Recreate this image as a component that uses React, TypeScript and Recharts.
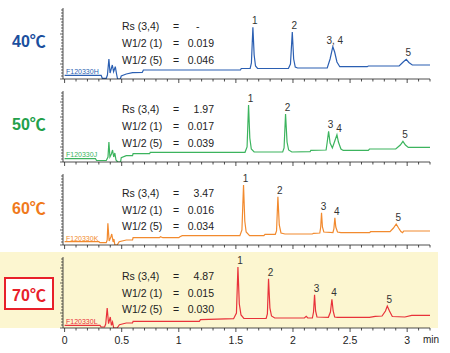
import React from 'react';
import { LineChart, Line, XAxis, YAxis, LabelList } from 'recharts';

// retention time (min) and detector signal
const TIME_40 = [0, 0.32, 0.33, 0.365, 0.375, 0.388, 0.398, 0.408, 0.418, 0.429, 0.444, 0.455, 0.464, 0.488, 0.496, 0.54, 0.595, 0.68, 0.69, 1.54, 1.547, 1.625, 1.636, 1.649, 1.66, 1.672, 1.69, 1.96, 1.978, 1.994, 2.006, 2.02, 2.04, 2.3, 2.325, 2.349, 2.365, 2.385, 2.41, 2.65, 2.66, 2.93, 2.965, 2.992, 3.015, 3.045, 3.2];
const SIGNAL_40 = [3.7, 3.7, 0.7, 0.7, 4, 20, 6, 10, 14, 7.3, 12.3, 5, 0, 0, 3, 5, 6.3, 6.5, 9, 9, 10.5, 10.5, 16, 51.7, 24, 13, 10.5, 10.5, 15, 47, 20, 12, 11, 11, 20, 32.3, 27, 17, 12.3, 12.3, 13, 13, 17, 19.7, 16.5, 14, 14];
const PEAKS_40 = [
  { t: 1.649, label: '1' },
  { t: 1.994, label: '2' },
  { t: 2.349, label: '3, 4' },
  { t: 2.992, label: '5' },
];

const TIME_50 = [0, 0.27, 0.28, 0.365, 0.38, 0.388, 0.397, 0.41, 0.42, 0.43, 0.44, 0.45, 0.465, 0.49, 0.496, 0.54, 0.595, 0.6, 0.745, 0.75, 1.58, 1.598, 1.611, 1.622, 1.635, 1.66, 1.91, 1.922, 1.935, 1.948, 1.962, 1.99, 2.15, 2.156, 2.29, 2.3, 2.312, 2.325, 2.345, 2.36, 2.385, 2.398, 2.42, 2.44, 2.66, 2.67, 2.9, 2.94, 2.963, 2.985, 3.01, 3.2];
const SIGNAL_50 = [3.3, 3.3, 1.5, 1.5, 5, 20, 5, 8, 12, 5, 9, 2, 0, 0, 4.3, 6.3, 6.3, 8.3, 8.3, 9.7, 9.7, 15, 57, 24, 13, 10, 10, 14, 48, 20, 12, 10, 10.3, 11.6, 12, 20, 30.6, 19, 14, 19, 27.3, 20, 13, 11.6, 11.6, 13, 13, 17, 20.6, 17, 14.6, 14.6];
const PEAKS_50 = [
  { t: 1.611, label: '1' },
  { t: 1.935, label: '2' },
  { t: 2.312, label: '3' },
  { t: 2.385, label: '4' },
  { t: 2.963, label: '5' },
];

const TIME_60 = [0, 0.3, 0.31, 0.365, 0.373, 0.379, 0.39, 0.405, 0.413, 0.425, 0.432, 0.44, 0.46, 0.478, 0.54, 0.595, 0.6, 0.83, 0.84, 0.86, 1.0, 1.01, 1.03, 1.535, 1.553, 1.567, 1.578, 1.59, 1.62, 1.745, 1.755, 1.845, 1.856, 1.868, 1.88, 1.895, 1.93, 2.17, 2.18, 2.235, 2.243, 2.25, 2.258, 2.27, 2.35, 2.358, 2.367, 2.375, 2.39, 2.42, 2.67, 2.68, 2.85, 2.88, 2.904, 2.925, 2.945, 2.96, 2.97, 3.2];
const SIGNAL_60 = [3.3, 3.3, 2.3, 2.3, 5, 21.7, 4, 8, 11, 3, 6, 0, 0, 3.3, 5, 5, 7.3, 7.3, 8.3, 7.3, 7.3, 8.3, 9.3, 9.3, 15, 60, 24, 13, 9.3, 9.3, 10.7, 10.7, 14, 48.3, 20, 12, 11, 11, 11.7, 12, 18, 32.3, 18, 13, 12.5, 16, 27.3, 18, 13, 12.3, 12.3, 13.3, 13.3, 17, 21, 17, 13.5, 12.3, 14, 14];
const PEAKS_60 = [
  { t: 1.567, label: '1' },
  { t: 1.868, label: '2' },
  { t: 2.25, label: '3' },
  { t: 2.367, label: '4' },
  { t: 2.904, label: '5' },
];

const TIME_70 = [0, 0.31, 0.32, 0.35, 0.36, 0.373, 0.385, 0.4, 0.41, 0.42, 0.43, 0.46, 0.48, 0.54, 0.595, 0.6, 1.18, 1.19, 1.48, 1.505, 1.518, 1.53, 1.545, 1.57, 1.765, 1.776, 1.786, 1.798, 1.812, 1.84, 2.1, 2.116, 2.13, 2.17, 2.18, 2.189, 2.198, 2.21, 2.31, 2.328, 2.341, 2.352, 2.365, 2.39, 2.67, 2.72, 2.78, 2.81, 2.826, 2.845, 2.87, 2.98, 3.04, 3.2];
const SIGNAL_70 = [2.7, 2.7, 1, 1, 4, 20, 4.3, 11, 2.7, 6, 0, 0, 3.3, 5, 5, 6.7, 6.7, 8.3, 9.3, 15, 61, 24, 13, 9.5, 9.5, 14, 49.3, 20, 12, 10, 10, 11.7, 10, 10, 16, 33.3, 17, 11, 10.7, 16, 28.7, 17, 11, 10.7, 10.7, 11.7, 12, 17, 22, 17, 11.5, 11, 12.7, 12.7];
const PEAKS_70 = [
  { t: 1.518, label: '1' },
  { t: 1.786, label: '2' },
  { t: 2.189, label: '3' },
  { t: 2.341, label: '4' },
  { t: 2.826, label: '5' },
];

const TEMPS = ['40℃', '50℃', '60℃', '70℃'];
const FILE_IDS = ['F120330H', 'F120330J', 'F120330K', 'F120330L'];
const RS_34 = ['-', '1.97', '3.47', '4.87'];
const W_HALF_1 = ['0.019', '0.017', '0.016', '0.015'];
const W_HALF_5 = ['0.046', '0.039', '0.034', '0.030'];

const TIME_TICKS = [0, 0.1, 0.2, 0.3, 0.4, 0.5, 0.6, 0.7, 0.8, 0.9, 1, 1.1, 1.2, 1.3, 1.4, 1.5, 1.6, 1.7, 1.8, 1.9, 2, 2.1, 2.2, 2.3, 2.4, 2.5, 2.6, 2.7, 2.8, 2.9, 3, 3.1, 3.2];
const TIME_LABELS = [0, 0.5, 1, 1.5, 2, 2.5, 3];
const SIGNAL_TICKS = [0, 3, 6, 9, 12, 15, 18, 21, 24, 27, 30, 33, 36, 39, 42, 45, 48, 51, 54, 57, 60, 63, 66, 69];

const LABEL_COLORS = ['#1b4f9e', '#22a04a', '#f07a1c', '#e8202a'];
const TRACE_COLORS = ['#2b5fb2', '#3cb45e', '#f28a2e', '#e8323a'];

const FONT = '"Liberation Sans", Arial, "Noto Sans CJK JP", sans-serif';
const AXIS_Y = [78.5, 161.5, 245, 328];
const PLOT_H = 71;
const PLOT_LEFT = 63;
const PLOT_RIGHT = 430;

function buildTrace(times: number[], signals: number[], peaks: { t: number; label: string }[]) {
  return times.map((t, i) => {
    const pk = peaks.find((p) => p.t === t);
    return { t, v: signals[i], peak: pk ? pk.label : undefined };
  });
}

const TRACES = [
  buildTrace(TIME_40, SIGNAL_40, PEAKS_40),
  buildTrace(TIME_50, SIGNAL_50, PEAKS_50),
  buildTrace(TIME_60, SIGNAL_60, PEAKS_60),
  buildTrace(TIME_70, SIGNAL_70, PEAKS_70),
];

function TimeTick(props: any) {
  const { x, y, payload, showLabel } = props;
  const major = TIME_LABELS.includes(payload.value);
  return (
    <g>
      <line x1={x} x2={x} y1={y} y2={y + (major ? 4 : 2.5)} stroke="#222" strokeWidth={0.8} />
      {showLabel && major && (
        <text x={x} y={y + 15.5} textAnchor="middle" fontSize={10.5} fill="#222" fontFamily={FONT}>
          {payload.value}
        </text>
      )}
    </g>
  );
}

function SignalTick(props: any) {
  const { x, y, payload } = props;
  const major = payload.value % 15 === 0;
  return <line x1={x - (major ? 3 : 2)} x2={x} y1={y} y2={y} stroke="#222" strokeWidth={0.7} />;
}

function PeakLabel(props: any) {
  const { x, y, value } = props;
  if (!value) return null;
  return (
    <text x={x + 2} y={y - 3} textAnchor="middle" fontSize={10} fill="#333" fontFamily={FONT}>
      {value}
    </text>
  );
}

function Panel({ index }: { index: number }) {
  const last = index === 3;
  const xAxisH = last ? 25 : 6;
  const marginTop = 3;
  const height = marginTop + PLOT_H + xAxisH;
  const top = AXIS_Y[index] - PLOT_H - marginTop;
  return (
    <div style={{ position: 'absolute', left: 0, top }}>
      <LineChart
        width={450}
        height={height}
        data={TRACES[index]}
        margin={{ top: marginTop, right: 450 - PLOT_RIGHT, bottom: 0, left: PLOT_LEFT - 6 }}
      >
        <XAxis
          type="number"
          dataKey="t"
          domain={[-0.014, 3.2]}
          ticks={TIME_TICKS}
          interval={0}
          height={xAxisH}
          tickSize={0}
          tickMargin={0}
          tickLine={false}
          axisLine={{ stroke: '#222', strokeWidth: 0.8 }}
          tick={(p: any) => <TimeTick {...p} showLabel={last} />}
          allowDataOverflow
        />
        <YAxis
          type="number"
          domain={[0, 71]}
          ticks={SIGNAL_TICKS}
          interval={0}
          width={6}
          tickSize={0}
          tickMargin={0}
          tickLine={false}
          axisLine={{ stroke: '#222', strokeWidth: 0.8 }}
          tick={(p: any) => <SignalTick {...p} />}
          allowDataOverflow
        />
        <Line
          type="linear"
          dataKey="v"
          stroke={TRACE_COLORS[index]}
          strokeWidth={1.2}
          dot={false}
          isAnimationActive={false}
        >
          <LabelList dataKey="peak" content={(p: any) => <PeakLabel {...p} />} />
        </Line>
      </LineChart>
    </div>
  );
}

const textBase: React.CSSProperties = {
  position: 'absolute',
  whiteSpace: 'nowrap',
  lineHeight: '1',
  transform: 'translateY(-50%)',
  fontFamily: FONT,
};

function Annotations({ index }: { index: number }) {
  const ax = AXIS_Y[index];
  const rows = [
    { name: 'Rs (3,4)', value: RS_34[index], dy: -52.5 },
    { name: 'W1/2 (1)', value: W_HALF_1[index], dy: -35.3 },
    { name: 'W1/2 (5)', value: W_HALF_5[index], dy: -18.7 },
  ];
  return (
    <>
      {rows.map((r) => (
        <React.Fragment key={r.name}>
          <div style={{ ...textBase, left: 122, top: ax + r.dy, fontSize: 10.5, color: '#222' }}>{r.name}</div>
          <div style={{ ...textBase, left: 173, top: ax + r.dy, fontSize: 10.5, color: '#222' }}>=</div>
          {r.value === '-' ? (
            <div style={{ ...textBase, left: 196, top: ax + r.dy, fontSize: 10.5, color: '#222' }}>-</div>
          ) : (
            <div style={{ ...textBase, left: 164, width: 50, textAlign: 'right', top: ax + r.dy, fontSize: 10.5, color: '#222' }}>
              {r.value}
            </div>
          )}
        </React.Fragment>
      ))}
      <div style={{ ...textBase, left: 66, top: ax - 7.5, fontSize: 7, color: TRACE_COLORS[index] }}>{FILE_IDS[index]}</div>
    </>
  );
}

export default function App() {
  return (
    <div
      style={{
        position: 'absolute',
        left: 0,
        top: 0,
        width: 450,
        height: 353,
        background: '#fff',
        overflow: 'hidden',
        fontFamily: FONT,
      }}
    >
      <div style={{ position: 'absolute', left: 0, top: 252, width: 438, height: 76, background: '#fcf6d0' }} />
      {[0, 1, 2].map((i) => (
        <div
          key={TEMPS[i]}
          style={{ ...textBase, left: 12, top: AXIS_Y[i] - 36.5, fontSize: 16, fontWeight: 'bold', color: LABEL_COLORS[i] }}
        >
          {TEMPS[i]}
        </div>
      ))}
      <div
        style={{
          position: 'absolute',
          left: 4,
          top: 277,
          width: 46,
          height: 29,
          border: '2px solid #e8202a',
          background: '#fff',
          display: 'flex',
          alignItems: 'center',
          justifyContent: 'center',
          fontSize: 16,
          fontWeight: 'bold',
          color: LABEL_COLORS[3],
          fontFamily: FONT,
        }}
      >
        {TEMPS[3]}
      </div>
      {[0, 1, 2, 3].map((i) => (
        <Panel key={i} index={i} />
      ))}
      {[0, 1, 2, 3].map((i) => (
        <Annotations key={i} index={i} />
      ))}
      <div style={{ ...textBase, left: 423, top: 339.5, fontSize: 10, color: '#222' }}>min</div>
    </div>
  );
}
